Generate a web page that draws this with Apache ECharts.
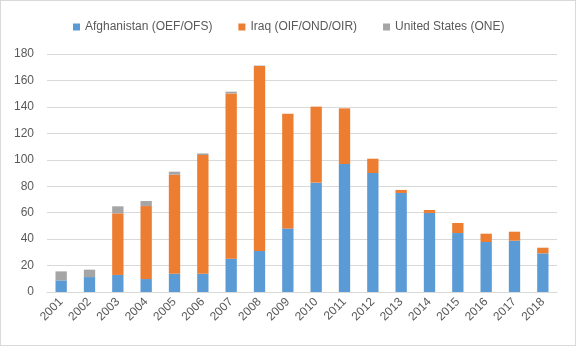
<!DOCTYPE html>
<html>
<head>
<meta charset="utf-8">
<script src="https://cdn.jsdelivr.net/npm/echarts@6/dist/echarts.min.js"></script>
<style>
  html, body { margin: 0; padding: 0; background: #fff; }
  #chart { width: 576px; height: 346px; box-sizing: border-box; border: 1px solid #d9d9d9; }
</style>
</head>
<body>
<div id="chart"></div>
<script>
// Fiscal years
const years = ['2001','2002','2003','2004','2005','2006','2007','2008','2009',
               '2010','2011','2012','2013','2014','2015','2016','2017','2018'];

// Stacked components per year
const afghanistan = [8.8, 11.3, 12.9, 9.8, 13.8, 13.8, 25.2, 31.0, 48.1,
                     82.7, 96.8, 90.0, 74.9, 59.8, 44.6, 37.8, 38.8, 29.2];
const iraq        = [0, 0, 46.6, 55.2, 74.9, 89.8, 125.0, 140.0, 86.8,
                     57.5, 42.1, 10.8, 2.3, 2.2, 7.6, 6.3, 6.8, 4.3];
const unitedStates = [6.8, 5.6, 5.3, 3.8, 2.3, 1.2, 1.3, 0.3, 0,
                      0, 0, 0, 0, 0, 0, 0, 0, 0];

// Value axis ticks
const yMin = 0, yMax = 180, yStep = 20;

const seriesNames = ['Afghanistan (OEF/OFS)', 'Iraq (OIF/OND/OIR)', 'United States (ONE)'];
const seriesColors = ['#5b9bd5', '#ed7d31', '#a5a5a5'];
const seriesData = [afghanistan, iraq, unitedStates];

const textColor = '#595959';
const font = 'Liberation Sans, Arial, sans-serif';

const chart = echarts.init(document.getElementById('chart'), null, { renderer: 'canvas' });
chart.setOption({
  animation: false,
  color: seriesColors,
  legend: {
    top: 15,
    left: 67,
    itemWidth: 7,
    itemHeight: 7,
    itemGap: 26,
    icon: 'rect',
    textStyle: { color: textColor, fontSize: 12, fontFamily: font },
    data: seriesNames
  },
  grid: { left: 46, right: 18, top: 53, bottom: 53, containLabel: false },
  xAxis: {
    type: 'category',
    data: years,
    axisLine: { lineStyle: { color: '#d9d9d9' } },
    axisTick: { show: false },
    axisLabel: { rotate: 45, color: textColor, fontSize: 12, fontFamily: font, margin: 8 }
  },
  yAxis: {
    type: 'value',
    min: yMin,
    max: yMax,
    interval: yStep,
    axisLine: { show: false },
    axisTick: { show: false },
    splitLine: { lineStyle: { color: '#d9d9d9', width: 1 } },
    axisLabel: { color: textColor, fontSize: 12, fontFamily: font, margin: 13 }
  },
  series: seriesNames.map((name, i) => ({
    name,
    type: 'bar',
    stack: 'total',
    barWidth: '40%',
    data: seriesData[i],
    itemStyle: { color: seriesColors[i] }
  }))
});
</script>
</body>
</html>
